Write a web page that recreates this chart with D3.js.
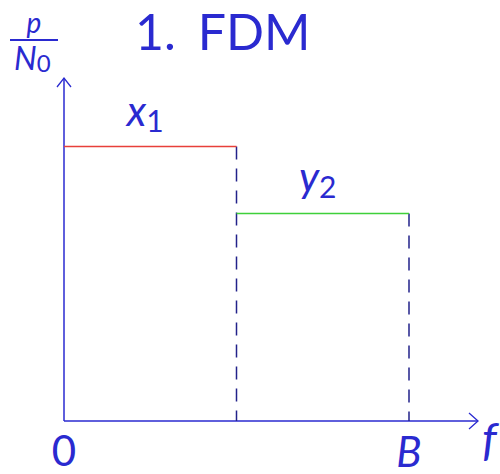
<!DOCTYPE html>
<html>
<head>
<meta charset="utf-8">
<script src="https://cdn.jsdelivr.net/npm/d3@7"></script>
<style>
  body { margin: 0; background: #fff; }
  text { font-family: Lato, "Open Sans", sans-serif; }
</style>
</head>
<body>
<div id="chart"></div>
<script>
// channel names, frequency bands and power levels
var channelNames = ['x', 'y'];
var channelSubs = ['1', '2'];
var bandFrom = [0, 0.5];
var bandTo = [0.5, 1];
var levels = [0.8, 0.605];
var lineColors = ['#e8403a', '#3fd03a'];

var blue = '#2a2ad0';
var width = 500, height = 474;

var svg = d3.select("#chart")
    .append("svg")
    .attr("width", width)
    .attr("height", height);

// scales: f in units of B, p/N0 normalised
var x = d3.scaleLinear().domain([0, 1]).range([64, 409]);
var y = d3.scaleLinear().domain([0, 1]).range([421, 78]);

var xEnd = 1.2;

// axes
svg.append("line")
    .attr("x1", x(0)).attr("y1", y(0))
    .attr("x2", x(xEnd)).attr("y2", y(0))
    .attr("stroke", blue).attr("stroke-width", 1.5);
svg.append("line")
    .attr("x1", x(0)).attr("y1", y(0))
    .attr("x2", x(0)).attr("y2", y(1))
    .attr("stroke", blue).attr("stroke-width", 1.5);

// arrow heads
svg.append("path")
    .attr("d", "M" + (x(xEnd) - 9) + "," + (y(0) - 8) + " L" + x(xEnd) + "," + y(0) + " L" + (x(xEnd) - 9) + "," + (y(0) + 8))
    .attr("fill", "none").attr("stroke", blue).attr("stroke-width", 1.3);
svg.append("path")
    .attr("d", "M" + (x(0) - 7) + "," + (y(1) + 9) + " L" + x(0) + "," + y(1) + " L" + (x(0) + 7) + "," + (y(1) + 9))
    .attr("fill", "none").attr("stroke", blue).attr("stroke-width", 1.3);

// dashed drop lines at band edges
svg.selectAll("dropLines")
    .data(levels)
    .enter()
    .append("line")
    .attr("x1", function(d, i){ return x(bandTo[i]); })
    .attr("x2", function(d, i){ return x(bandTo[i]); })
    .attr("y1", function(d){ return y(d); })
    .attr("y2", y(0))
    .attr("stroke", "#22228a")
    .attr("stroke-width", 1.5)
    .attr("stroke-dasharray", "13,9");

// level lines
svg.selectAll("levelLines")
    .data(levels)
    .enter()
    .append("line")
    .attr("x1", function(d, i){ return x(bandFrom[i]); })
    .attr("x2", function(d, i){ return x(bandTo[i]); })
    .attr("y1", function(d){ return y(d); })
    .attr("y2", function(d){ return y(d); })
    .attr("stroke", function(d, i){ return lineColors[i]; })
    .attr("stroke-width", 1.5);

// channel labels
var labels = svg.selectAll("chanLabels")
    .data(levels)
    .enter()
    .append("text")
    .attr("x", function(d, i){ return x((bandFrom[i] + bandTo[i]) / 2) - 5; })
    .attr("y", function(d){ return y(d) - 21; })
    .attr("text-anchor", "middle")
    .attr("fill", blue);
labels.append("tspan")
    .attr("font-style", "italic")
    .attr("font-size", "42px")
    .text(function(d, i){ return channelNames[i]; });
labels.append("tspan")
    .attr("font-size", "30px")
    .attr("dy", 6)
    .text(function(d, i){ return channelSubs[i]; });

// title
var title = svg.append("text")
    .attr("x", 135).attr("y", 50)
    .attr("font-size", "50px")
    .attr("fill", blue);
title.append("tspan").text("1.");
title.append("tspan").attr("dx", 22).text("FDM");

// tick labels
svg.append("text")
    .attr("x", x(0)).attr("y", 466)
    .attr("text-anchor", "middle")
    .attr("font-size", "42px")
    .attr("fill", blue)
    .text("0");
svg.append("text")
    .attr("x", x(1)).attr("y", 467)
    .attr("text-anchor", "middle")
    .attr("font-size", "42px")
    .attr("font-style", "italic")
    .attr("fill", blue)
    .text("B");
svg.append("text")
    .attr("x", 482).attr("y", 456)
    .attr("font-size", "46px")
    .attr("font-style", "italic")
    .attr("fill", blue)
    .text("f");

// y label p / N0
svg.append("text")
    .attr("x", 34).attr("y", 33)
    .attr("text-anchor", "middle")
    .attr("font-size", "28px")
    .attr("font-style", "italic")
    .attr("fill", blue)
    .text("p");
svg.append("line")
    .attr("x1", 10).attr("x2", 58)
    .attr("y1", 40).attr("y2", 40)
    .attr("stroke", blue).attr("stroke-width", 2);
var nlab = svg.append("text")
    .attr("x", 14).attr("y", 70)
    .attr("fill", blue);
nlab.append("tspan")
    .attr("font-size", "32px")
    .attr("font-style", "italic")
    .text("N");
nlab.append("tspan")
    .attr("font-size", "24px")
    .attr("dy", 2)
    .text("0");
</script>
</body>
</html>
